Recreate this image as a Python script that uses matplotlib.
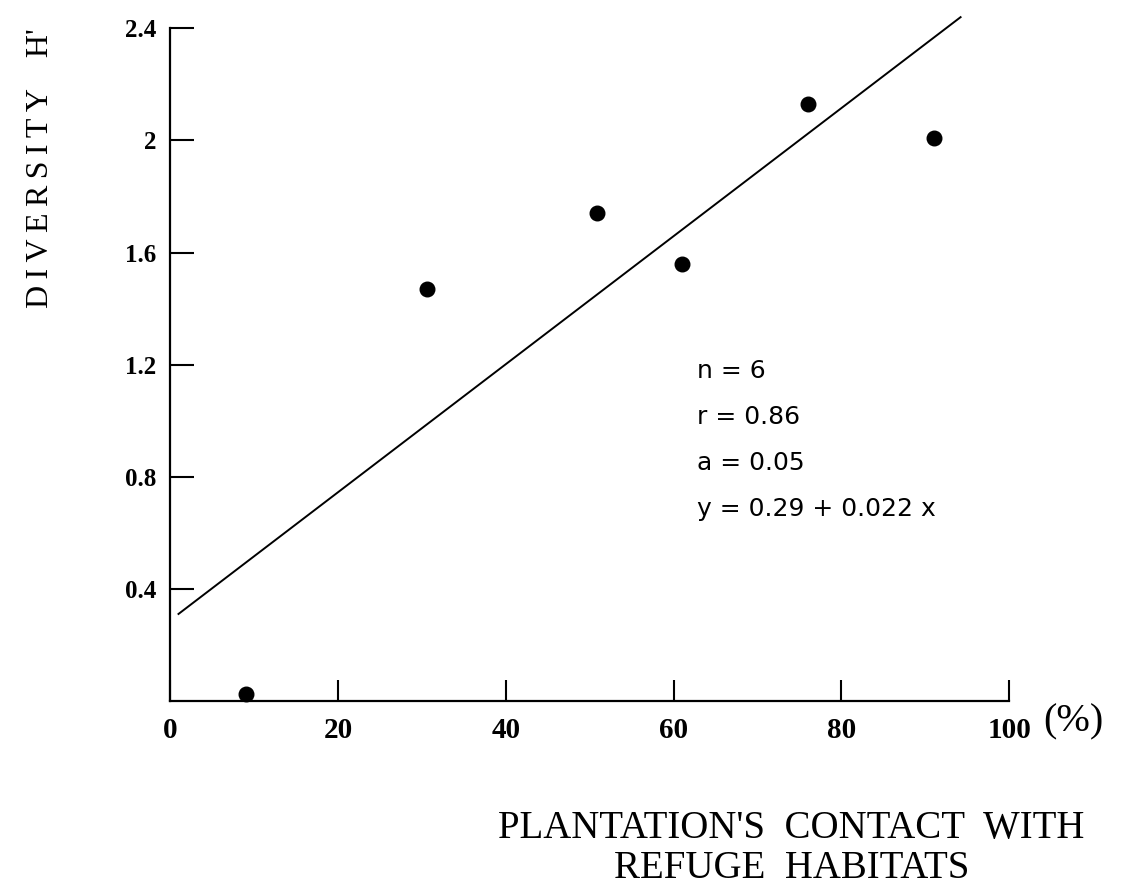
import matplotlib
matplotlib.use("Agg")
import matplotlib.pyplot as plt

# puntos
contact_pct = [9.0, 30.6, 50.9, 61.0, 76.0, 91.0]
diversity_h = [0.025, 1.47, 1.74, 1.56, 2.13, 2.01]

# recta de regresión tal como está dibujada (extremos)
fit_x = [1.0, 94.2]
fit_y = [0.31, 2.44]

x_ticks = [0, 20, 40, 60, 80, 100]
y_ticks = [0.4, 0.8, 1.2, 1.6, 2.0, 2.4]
y_tick_labels = ["0.4", "0.8", "1.2", "1.6", "2", "2.4"]

stats_lines = ["n = 6", "r = 0.86", "a = 0.05", "y = 0.29 + 0.022 x"]


def spaced(txt):
    # tracking amplio como en el original
    return "\u2009".join(txt)


plt.rcParams["font.family"] = ["Liberation Serif", "DejaVu Serif"]

fig = plt.figure(figsize=(11.34, 8.86), dpi=100)
ax = fig.add_axes([0.150, 0.209, 0.740, 0.759])

ax.plot(fit_x, fit_y, color="black", lw=1.4, clip_on=False)
ax.scatter(contact_pct, diversity_h, s=110, color="black", zorder=3, clip_on=False)

ax.set_xlim(0, 100)
ax.set_ylim(0, 2.4)
for side in ("top", "right"):
    ax.spines[side].set_visible(False)
for side in ("left", "bottom"):
    ax.spines[side].set_linewidth(1.6)

ax.set_xticks(x_ticks)
ax.set_xticklabels([str(v) for v in x_ticks], fontsize=21, fontweight="bold")
ax.set_yticks(y_ticks)
ax.set_yticklabels(y_tick_labels, fontsize=18, fontweight="bold")
ax.tick_params(axis="x", direction="in", length=15, width=1.5, pad=12)
ax.tick_params(axis="y", direction="in", length=17, width=1.5, pad=10)

ax.text(1.040, -0.032, "(%)", transform=ax.transAxes, fontsize=29,
        ha="left", va="center")

for i, line in enumerate(stats_lines):
    ax.text(0.628, 0.491 - i * 0.0685, line, transform=ax.transAxes,
            fontsize=18, family="DejaVu Sans", ha="left", va="center")

fig.text(0.036, 0.81, spaced("DIVERSITY") + "    H'", rotation=90, fontsize=23,
         ha="center", va="center")
fig.text(0.698, 0.065, "PLANTATION'S  CONTACT  WITH",
         fontsize=28, ha="center", va="center")
fig.text(0.698, 0.020, "REFUGE  HABITATS",
         fontsize=28, ha="center", va="center")

fig.savefig("out.png", dpi=100)
